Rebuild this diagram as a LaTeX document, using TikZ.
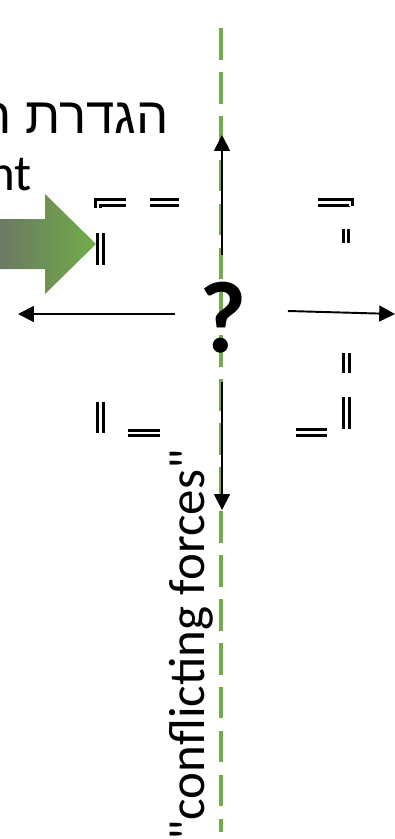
\documentclass[tikz,border=0pt]{standalone}
\usepackage{fontspec}
\setmainfont{Carlito}
\newfontfamily\hebfont[Script=Hebrew]{Liberation Sans}
\TeXXeTstate=1
\usepackage{xcolor}
\usetikzlibrary{arrows.meta,positioning}

\definecolor{slidegreen}{RGB}{112,173,71}
\definecolor{slidegrey}{RGB}{108,120,100}

\begin{document}
\begin{tikzpicture}[x=0.02cm, y=-0.02cm]
	\tikzstyle{force}=[-{Triangle[length=9pt,width=9pt]}, line width=1.1pt]
	\tikzstyle{glyph}=[double, double distance=1.4pt, line width=1.6pt]
	\tikzstyle{axis}=[slidegreen, line width=2.3pt, dash pattern=on 18pt off 7pt]
	\tikzstyle{big}=[font=\fontsize{29}{33}\selectfont]
	
	\useasboundingbox (0,0) rectangle (395,839);
	
	% cut off headline
	\node[big, anchor=base east] (title) at (175,133) {\hebfont\beginR הגדרת ה\endR};
	\node[big, anchor=base east] (sub) at (38,190) {nt};
	
	% block arrow
	\shade[left color=slidegrey, right color=slidegreen]
	(0,219) -- (45,219) -- (45,194) -- (96,244) -- (45,294) -- (45,269) -- (0,269) -- cycle;
	
	% dashed axis
	\coordinate (top) at (221,28);
	\coordinate (bottom) at (221,832);
	\draw[axis] (top) -- (bottom);
	
	\node[font=\fontsize{58}{62}\selectfont\bfseries] (q) at (223,318) {?};
	
	\coordinate (up0) at (222,255);   \coordinate (up1) at (222,135);
	\coordinate (down0) at (222,382); \coordinate (down1) at (222,510);
	\coordinate (left0) at (175,314); \coordinate (left1) at (18,314);
	\coordinate (right0) at (288,311);\coordinate (right1) at (395,314);
	
	\draw[force] (up0) -- (up1);
	\draw[force] (down0) -- (down1);
	\draw[force] (left0) -- (left1);
	\draw[force] (right0) -- (right1);
	
	% broken glyphs round the question mark
	\draw[glyph] (126,202.5) -- (98,202.5) -- (98,208);
	\draw[glyph] (150,202.5) -- (179,202.5);
	\draw[glyph] (100.5,233) -- (100.5,265);
	\draw[glyph] (318,202.5) -- (350,202.5) -- (350,206);
	\draw[glyph] (346,229) -- (346,243);
	\draw[glyph] (346.5,353) -- (346.5,373);
	\draw[glyph] (346.5,397) -- (346.5,429);
	\draw[glyph] (296,432.5) -- (327,432.5);
	\draw[glyph] (100.5,402) -- (100.5,433);
	\draw[glyph] (128,433) -- (160,433);
	
	\node[big, rotate=90] (cf) at (191,645) {\textquotedbl conflicting forces\textquotedbl};
\end{tikzpicture}
\end{document}
